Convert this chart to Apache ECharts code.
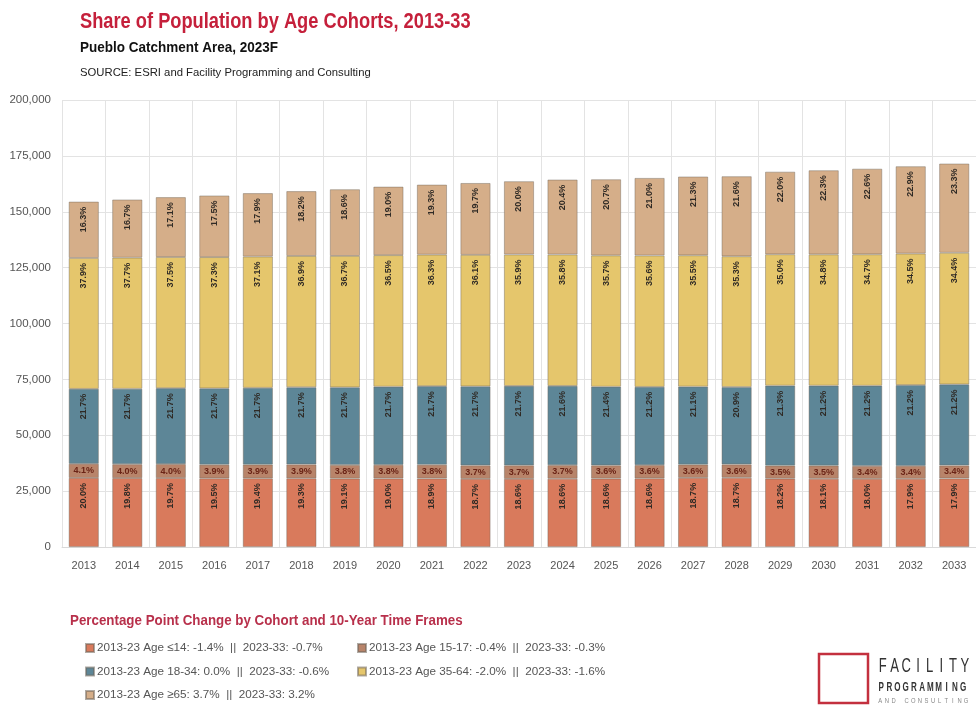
<!DOCTYPE html>
<html><head><meta charset="utf-8">
<script src="https://cdn.jsdelivr.net/npm/echarts@6/dist/echarts.min.js"></script>
<style>html,body{margin:0;padding:0;background:#fff}#c{width:976px;height:706px}</style>
</head><body><div id="c"></div>
<script>
var years = ['2013','2014','2015','2016','2017','2018','2019','2020','2021','2022','2023','2024','2025','2026','2027','2028','2029','2030','2031','2032','2033'];
var totals = [154500,155600,156500,157400,158300,159200,160200,161200,162100,163000,163800,164200,164500,165100,165400,165700,167900,168700,169400,170500,171200];
var shareU14 = [20.0,19.8,19.7,19.5,19.4,19.3,19.1,19.0,18.9,18.7,18.6,18.6,18.6,18.6,18.7,18.7,18.2,18.1,18.0,17.9,17.9];
var share1517 = [4.1,4.0,4.0,3.9,3.9,3.9,3.8,3.8,3.8,3.7,3.7,3.7,3.6,3.6,3.6,3.6,3.5,3.5,3.4,3.4,3.4];
var share1834 = [21.7,21.7,21.7,21.7,21.7,21.7,21.7,21.7,21.7,21.7,21.7,21.6,21.4,21.2,21.1,20.9,21.3,21.2,21.2,21.2,21.2];
var share3564 = [37.9,37.7,37.5,37.3,37.1,36.9,36.7,36.5,36.3,36.1,35.9,35.8,35.7,35.6,35.5,35.3,35.0,34.8,34.7,34.5,34.4];
var share65 = [16.3,16.7,17.1,17.5,17.9,18.2,18.6,19.0,19.3,19.7,20.0,20.4,20.7,21.0,21.3,21.6,22.0,22.3,22.6,22.9,23.3];
var seriesNames = [
  '2013-23 Age \u226414: -1.4%  ||  2023-33: -0.7%',
  '2013-23 Age 15-17: -0.4%  ||  2023-33: -0.3%',
  '2013-23 Age 18-34: 0.0%  ||  2023-33: -0.6%',
  '2013-23 Age 35-64: -2.0%  ||  2023-33: -1.6%',
  '2013-23 Age \u226565: 3.7%  ||  2023-33: 3.2%'
];
var yTicks = [0,25000,50000,75000,100000,125000,150000,175000,200000];
var titleText = 'Share of Population by Age Cohorts, 2013-33';
var subtitleText = 'Pueblo Catchment Area, 2023F';
var sourceText = 'SOURCE: ESRI and Facility Programming and Consulting';
var legendHeader = 'Percentage Point Change by Cohort and 10-Year Time Frames';

var shares = [shareU14, share1517, share1834, share3564, share65];
var colors = ['#D97A5C','#B8846A','#5D8697','#E5C66C','#D5AE89'];
var SANS = '"Liberation Sans",Arial,sans-serif';

var chart = echarts.init(document.getElementById('c'), null, {renderer:'canvas'});

var series = shares.map(function(sh, k){
  var rotated = k !== 1;
  return {
    name: seriesNames[k],
    type: 'bar',
    stack: 'pop',
    barWidth: 30,
    data: sh.map(function(p, i){ return totals[i] * p / 100; }),
    itemStyle: {color: colors[k], borderColor: 'rgba(110,100,90,0.55)', borderWidth: 0.8},
    label: rotated ? {
      show: true, position: 'insideTop', rotate: 90, align: 'right', verticalAlign: 'middle',
      distance: 5, fontSize: 9, fontWeight: 'bold', color: '#2f2a25', fontFamily: SANS,
      formatter: function(p){ return sh[p.dataIndex].toFixed(1) + '%'; }
    } : {
      show: true, position: 'inside', fontSize: 9, fontWeight: 'bold', color: '#6a2416', fontFamily: SANS,
      formatter: function(p){ return sh[p.dataIndex].toFixed(1) + '%'; }
    },
    emphasis: {disabled: true}
  };
});

var graphics = [
  {type:'text', x: 80, y: 11, scaleX: 0.83, style:{text: titleText, fill:'#C5203B', font:'bold 22px ' + SANS, textVerticalAlign:'top'}},
  {type:'text', x: 80, y: 40, scaleX: 0.9, style:{text: subtitleText, fill:'#111', font:'bold 15px ' + SANS, textVerticalAlign:'top'}},
  {type:'text', x: 80, y: 67, style:{text: sourceText, fill:'#222', font:'11.3px ' + SANS, textVerticalAlign:'top'}},
  {type:'text', x: 70, y: 613, scaleX: 0.92, style:{text: legendHeader, fill:'#B8304B', font:'bold 14.5px ' + SANS, textVerticalAlign:'top'}},
  {type:'rect', x: 819, y: 654, shape:{width:49, height:49}, style:{fill:'none', stroke:'#C3303E', lineWidth:2.5}}
];
function spaced(str, x0, y, size, step, sx, color, weight){
  for (var i=0;i<str.length;i++){
    graphics.push({type:'text', x: x0 + i*step + step/2, y: y, scaleX: sx,
      style:{text: str[i], fill: color, font: (weight||'normal') + ' ' + size + 'px ' + SANS, textAlign:'center', textVerticalAlign:'middle'}});
  }
}
spaced('FACILITY', 877, 666, 21, 11.7, 0.62, '#333');
spaced('PROGRAMMING', 877, 687, 13, 8.2, 0.62, '#333', 'bold');
spaced('AND CONSULTING', 877, 701, 6.5, 6.6, 0.9, '#888');

var legendText = {color:'#555', fontSize: 11.7, fontFamily: SANS, padding:[0,0,0,-2]};
var option = {
  backgroundColor: '#fff',
  animation: false,
  grid: {left: 62, right: 0, top: 100, bottom: 159, containLabel: false},
  legend: [
    {data:[seriesNames[0], seriesNames[2], seriesNames[4]], orient:'vertical', left: 85, top: 642, padding: 0, itemGap: 11.5,
     itemWidth: 8, itemHeight: 8, icon:'rect', selectedMode:false, textStyle: legendText},
    {data:[seriesNames[1], seriesNames[3]], orient:'vertical', left: 357, top: 642, padding: 0, itemGap: 11.5,
     itemWidth: 8, itemHeight: 8, icon:'rect', selectedMode:false, textStyle: legendText}
  ],
  xAxis: {
    type:'category', data: years,
    axisLine:{show:true, lineStyle:{color:'#d9d9d9'}}, axisTick:{show:false},
    axisLabel:{color:'#555', fontSize: 11, fontFamily: SANS, margin: 13},
    splitLine:{show:true, interval:0, lineStyle:{color:'#e3e3e3'}}
  },
  yAxis: {
    type:'value', min: yTicks[0], max: yTicks[yTicks.length-1], interval: yTicks[1]-yTicks[0],
    axisLine:{show:false}, axisTick:{show:false},
    axisLabel:{color:'#555', fontSize: 11.5, fontFamily: SANS, margin: 11,
      formatter: function(v){ return v.toLocaleString('en-US'); }},
    splitLine:{show:true, lineStyle:{color:'#e3e3e3'}}
  },
  series: series,
  graphic: graphics
};
chart.setOption(option);
</script>
</body></html>
